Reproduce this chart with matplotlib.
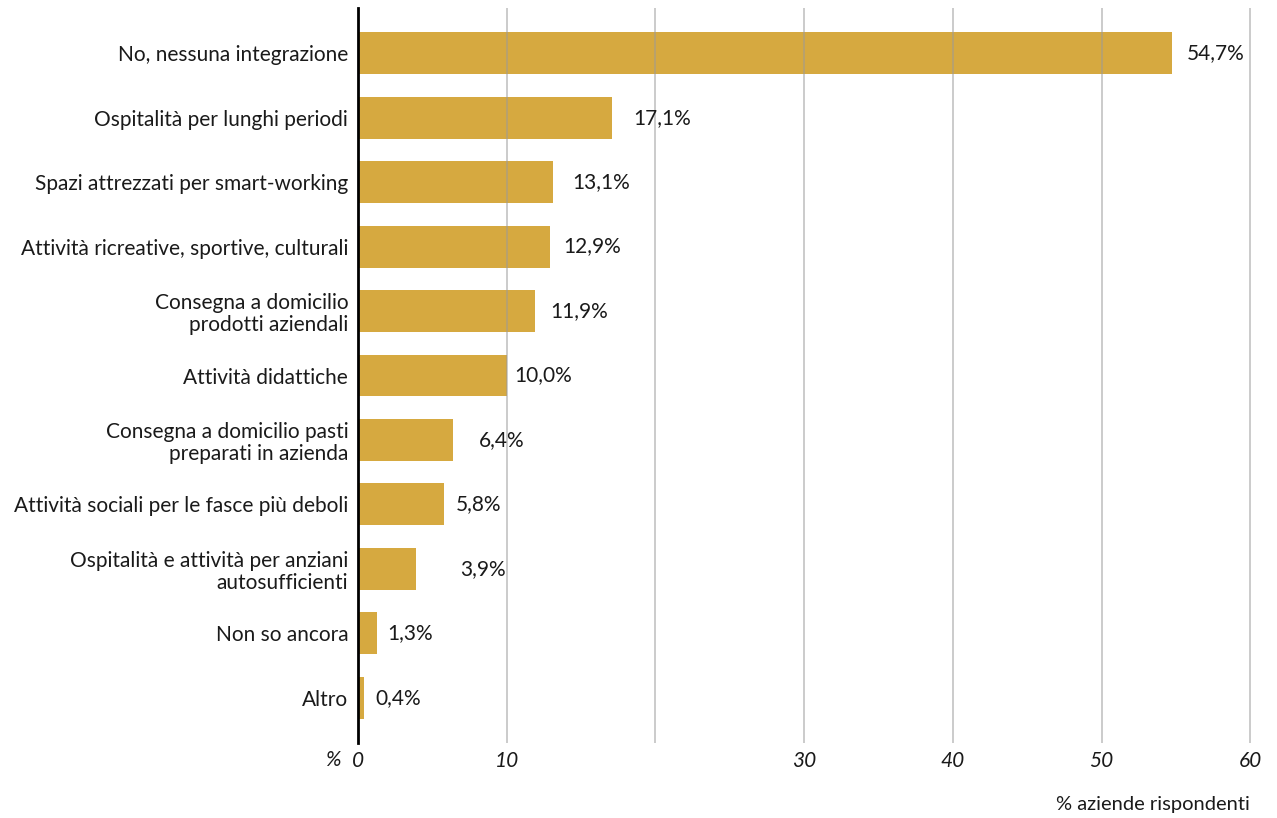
import matplotlib.pyplot as plt

categories = [
    'No, nessuna integrazione',
    'Ospitalità per lunghi periodi',
    'Spazi attrezzati per smart-working',
    'Attività ricreative, sportive, culturali',
    'Consegna a domicilio\nprodotti aziendali',
    'Attività didattiche',
    'Consegna a domicilio pasti\npreparati in azienda',
    'Attività sociali per le fasce più deboli',
    'Ospitalità e attività per anziani\nautosufficienti',
    'Non so ancora',
    'Altro',
]
values = [54.7, 17.1, 13.1, 12.9, 11.9, 10.0, 6.4, 5.8, 3.9, 1.3, 0.4]
value_labels = ['54,7%', '17,1%', '13,1%', '12,9%', '11,9%', '10,0%',
                '6,4%', '5,8%', '3,9%', '1,3%', '0,4%']
tick_values = [0, 10, 30, 40, 50, 60]
grid_values = [10, 20, 30, 40, 50, 60]

# extra horizontal nudge of each value label (data units)
label_nudge = [1.0, 1.4, 1.3, 0.9, 1.0, 0.5, 1.7, 0.8, 3.0, 0.65, 0.8]

bar_color = '#d6a940'
text_color = '#1a1a1a'
font = 'Lato'

fig = plt.figure(figsize=(12.77, 8.18), dpi=100)
ax = fig.add_axes([0.2803, 0.0917, 0.6994, 0.8985])

ypos = list(range(len(values)))
ax.barh(ypos, values, height=0.65, color=bar_color, zorder=1)

for g in grid_values:
    ax.axvline(g, color='#9a9a9a', alpha=0.55, lw=1.3, zorder=2)

for y, v, lab, dx in zip(ypos, values, value_labels, label_nudge):
    ax.text(v + dx, y, lab, va='center', ha='left', fontsize=15,
            family=font, color=text_color)

ax.set_ylim(len(values) - 0.3, -0.7)
ax.set_xlim(0, 60.05)
ax.set_yticks(ypos)
ax.set_yticklabels(categories, fontsize=15, family=font, color=text_color,
                   ha='right', multialignment='right', linespacing=1.1)
ax.tick_params(axis='y', length=0, pad=7)

ax.set_xticks(tick_values)
ax.set_xticklabels([str(t) for t in tick_values], fontsize=15, family=font,
                   style='italic', color=text_color)
ax.tick_params(axis='x', length=0, pad=6)

for side in ['top', 'right', 'bottom']:
    ax.spines[side].set_visible(False)
ax.spines['left'].set_linewidth(2)
ax.spines['left'].set_color('black')
ax.spines['left'].set_zorder(3)

fig.text(0.2670, 0.0715, '%', fontsize=15, family=font, style='italic',
         ha='right', va='center', color=text_color)
fig.text(0.979, 0.016, '% aziende rispondenti', fontsize=14.5, family=font,
         ha='right', va='center', color=text_color)

fig.savefig('out.png', dpi=100)
